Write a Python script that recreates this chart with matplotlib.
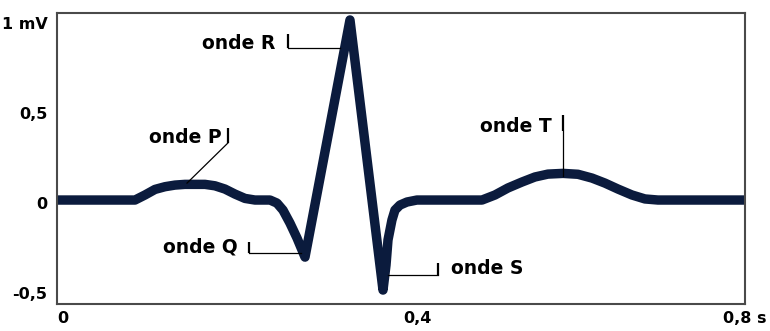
import matplotlib
matplotlib.use("Agg")
import matplotlib.pyplot as plt
import matplotlib.transforms as mtransforms

# ECG trace: time (s) and potential (mV)
time_s = [0.0, 0.0907,
          # P wave
          0.1023, 0.1140, 0.1256, 0.1372, 0.1488, 0.1605, 0.1721, 0.1837,
          0.1953, 0.2070, 0.2186, 0.2302,
          # Q wave
          0.2477, 0.2558, 0.2628, 0.2709, 0.2791, 0.2884,
          # R peak
          0.3407,
          # S wave
          0.3791, 0.3826, 0.3849, 0.3895, 0.3930, 0.3988, 0.4070, 0.4186,
          # T wave
          0.4942, 0.5093, 0.5244, 0.5407, 0.5558, 0.5709, 0.5884, 0.6058,
          0.6221, 0.6372, 0.6523, 0.6686, 0.6837, 0.6988,
          0.8]
voltage_mv = [0.0, 0.0,
              0.028, 0.059, 0.074, 0.083, 0.087, 0.087, 0.087, 0.079,
              0.061, 0.033, 0.009, 0.0,
              0.0, -0.017, -0.056, -0.128, -0.211, -0.317,
              1.0,
              -0.50, -0.361, -0.222, -0.111, -0.056, -0.028, -0.011, 0.0,
              0.0, 0.028, 0.067, 0.100, 0.128, 0.144, 0.148, 0.143,
              0.122, 0.094, 0.061, 0.028, 0.006, 0.0,
              0.0]

x_ticks = [0.0, 0.4, 0.8]
x_tick_labels = ["0", "0,4", "0,8 s"]
y_ticks = [1.0, 0.5, 0.0, -0.5]
y_tick_labels = ["1 mV", "0,5", "0", "-0,5"]

wave_labels = ["onde P", "onde Q", "onde R", "onde S", "onde T"]

trace_color = "#0b1b3d"
frame_color = "#4a4a4a"

fig = plt.figure(figsize=(7.7, 3.31), dpi=100)
ax = fig.add_axes([0.074, 0.0807, 0.8935, 0.8791])

ax.plot(time_s, voltage_mv, color=trace_color, lw=6.8,
        solid_joinstyle="round", solid_capstyle="butt")

ax.set_xlim(0, 0.8)
ax.set_ylim(-0.579, 1.037)

for s in ax.spines.values():
    s.set_color(frame_color)
    s.set_linewidth(1.5)

ax.set_xticks(x_ticks)
ax.set_xticklabels(x_tick_labels, fontsize=11.5, fontweight="bold")
ax.set_yticks(y_ticks)
ax.set_yticklabels(y_tick_labels, fontsize=11.5, fontweight="bold")
ax.tick_params(axis="both", length=0)
ax.tick_params(axis="y", pad=7)
ax.tick_params(axis="x", pad=5)

xl = ax.get_xticklabels()
xl[0].set_horizontalalignment("left")
xl[1].set_transform(xl[1].get_transform() +
                    mtransforms.ScaledTranslation(0.16, 0, fig.dpi_scale_trans))
for lbl in ax.get_yticklabels():
    lbl.set_transform(lbl.get_transform() +
                      mtransforms.ScaledTranslation(0, -0.03, fig.dpi_scale_trans))

txt_kw = dict(fontsize=13.5, fontweight="bold", va="center", color="black")
bar_kw = dict(color="black", lw=1.6, solid_capstyle="butt")
lead_kw = dict(color="black", lw=0.9)

# onde P
ax.text(0.1919, 0.35, wave_labels[0], ha="right", **txt_kw)
ax.plot([0.1988, 0.1988], [0.40, 0.317], **bar_kw)
ax.plot([0.1988, 0.1512], [0.317, 0.094], **lead_kw)

# onde Q
ax.text(0.2105, -0.261, wave_labels[1], ha="right", **txt_kw)
ax.plot([0.2233, 0.2233], [-0.233, -0.294], **bar_kw)
ax.plot([0.2233, 0.2837], [-0.294, -0.294], **lead_kw)

# onde R
ax.text(0.2535, 0.872, wave_labels[2], ha="right", **txt_kw)
ax.plot([0.2686, 0.2686], [0.922, 0.844], **bar_kw)
ax.plot([0.2686, 0.3291], [0.844, 0.844], **lead_kw)

# onde S
ax.text(0.4581, -0.378, wave_labels[3], ha="left", **txt_kw)
ax.plot([0.443, 0.443], [-0.35, -0.417], **bar_kw)
ax.plot([0.3849, 0.443], [-0.417, -0.417], **lead_kw)

# onde T
ax.text(0.5756, 0.406, wave_labels[4], ha="right", **txt_kw)
ax.plot([0.5884, 0.5884], [0.472, 0.383], **bar_kw)
ax.plot([0.5884, 0.5884], [0.383, 0.133], **lead_kw)

fig.savefig("out.png", dpi=100)
